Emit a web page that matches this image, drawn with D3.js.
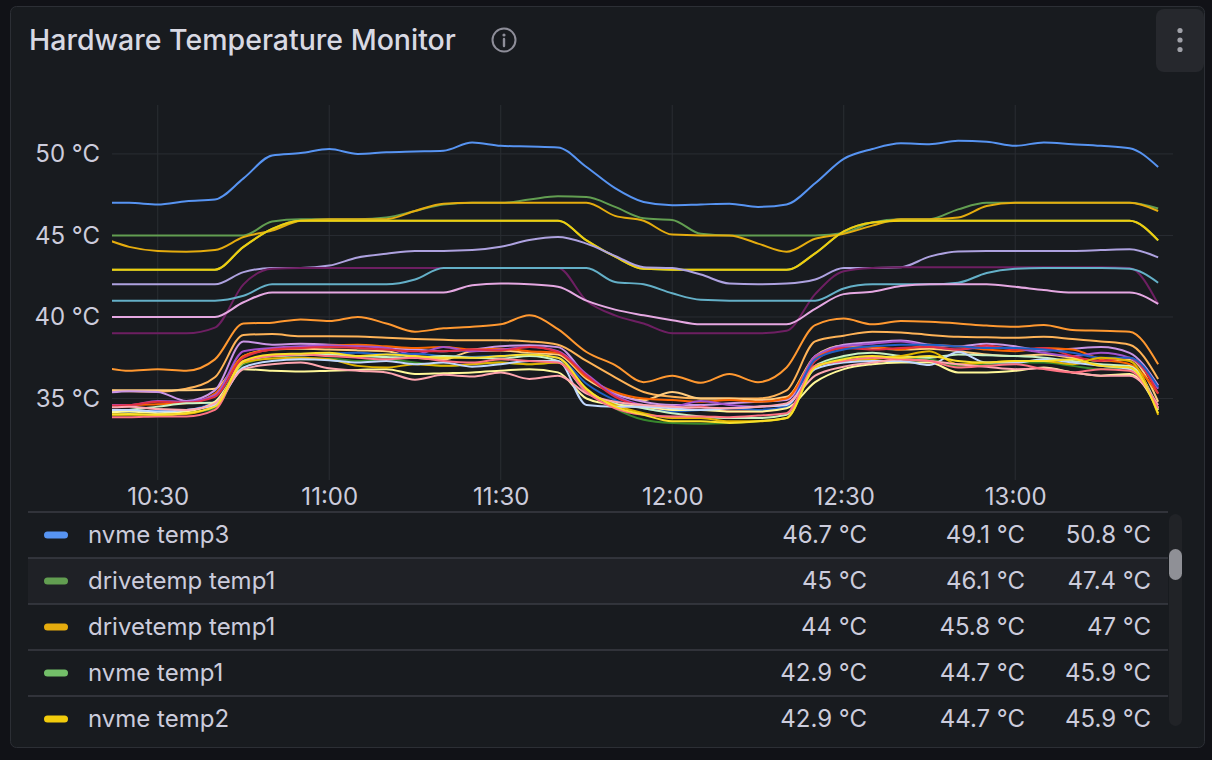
<!DOCTYPE html>
<html>
<head>
<meta charset="utf-8">
<title>Hardware Temperature Monitor</title>
<script src="https://cdn.jsdelivr.net/npm/d3@7"></script>
<style>
  body { margin: 0; background: #111217; font-family: Inter, "Noto Sans", sans-serif; }
  svg { display: block; }
</style>
</head>
<body>
<svg id="chart" width="1212" height="760"></svg>
<script>

// sample times (5 min scrape)
var timeLabels = ["10:20","10:25","10:30","10:35","10:40","10:45","10:50","10:55","11:00","11:05",
                  "11:10","11:15","11:20","11:25","11:30","11:35","11:40","11:45","11:50","11:55",
                  "12:00","12:05","12:10","12:15","12:20","12:25","12:30","12:35","12:40","12:45",
                  "12:50","12:55","13:00","13:05","13:10","13:15","13:20","13:25"];

var xTickLabels = ["10:30", "11:00", "11:30", "12:00", "12:30", "13:00"];
var yTickValues = [35, 40, 45, 50];

// upper sensors
var nvmeTemp3 = [47.0, 47.0, 46.9, 47.1, 47.2, 48.5, 49.9, 50.05, 50.3, 50.0, 50.1, 50.15, 50.2, 50.7, 50.5, 50.45, 50.4, 49.2, 47.9, 47.05, 46.85, 46.9, 46.95, 46.75, 46.9, 48.2, 49.7, 50.3, 50.65, 50.6, 50.8, 50.75, 50.5, 50.7, 50.6, 50.5, 50.35, 49.2];
var drivetempA = [45.0, 45.0, 45.0, 45.0, 45.0, 45.0, 45.85, 46.0, 46.0, 46.0, 46.1, 46.5, 46.9, 47.0, 47.0, 47.2, 47.4, 47.35, 46.75, 46.05, 45.95, 45.1, 45.0, 45.0, 45.0, 45.0, 45.15, 45.8, 46.0, 46.0, 46.6, 47.0, 47.0, 47.0, 47.0, 47.0, 47.0, 46.65];
var drivetempB = [44.9, 44.3, 44.05, 44.0, 44.1, 44.9, 45.3, 45.9, 46.0, 46.0, 46.0, 46.5, 46.95, 47.0, 47.0, 47.0, 47.0, 47.0, 46.2, 45.9, 45.05, 45.0, 45.0, 44.5, 44.0, 44.8, 45.1, 45.6, 46.0, 46.0, 46.1, 46.8, 47.0, 47.0, 47.0, 47.0, 47.0, 46.5];
var nvmeTemp1 = [42.9, 42.9, 42.9, 42.9, 42.9, 44.3, 45.4, 45.9, 45.9, 45.9, 45.9, 45.9, 45.9, 45.9, 45.9, 45.9, 45.9, 44.7, 43.7, 42.95, 42.9, 42.9, 42.9, 42.9, 42.9, 43.9, 45.25, 45.8, 45.9, 45.9, 45.9, 45.9, 45.9, 45.9, 45.9, 45.9, 45.9, 44.7];
var nvmeTemp2 = [42.9, 42.9, 42.9, 42.9, 42.9, 44.3, 45.4, 45.9, 45.9, 45.9, 45.9, 45.9, 45.9, 45.9, 45.9, 45.9, 45.9, 44.7, 43.7, 42.95, 42.9, 42.9, 42.9, 42.9, 42.9, 43.9, 45.25, 45.8, 45.9, 45.9, 45.9, 45.9, 45.9, 45.9, 45.9, 45.9, 45.9, 44.7];
var acpiTemp1 = [42.0, 42.0, 42.0, 42.0, 42.0, 42.75, 43.0, 43.0, 43.15, 43.65, 43.88, 44.05, 44.05, 44.1, 44.3, 44.72, 44.9, 44.5, 43.75, 43.05, 43.0, 42.6, 42.05, 42.0, 42.05, 42.3, 43.0, 43.0, 43.05, 43.7, 44.02, 44.05, 44.05, 44.05, 44.05, 44.1, 44.15, 43.65];
var pchTemp1 = [39.0, 39.0, 39.0, 39.0, 39.35, 42.0, 42.95, 43.0, 43.0, 43.0, 43.0, 43.0, 43.0, 43.0, 43.0, 43.0, 43.0, 41.0, 40.1, 39.6, 39.0, 39.0, 39.0, 39.0, 39.15, 41.4, 42.8, 43.0, 43.05, 43.05, 43.05, 43.05, 43.05, 43.05, 43.05, 43.05, 43.0, 40.8];
var wifiTemp1 = [41.0, 41.0, 41.0, 41.0, 41.0, 41.3, 42.0, 42.0, 42.0, 42.0, 42.0, 42.3, 43.0, 43.0, 43.0, 43.0, 43.0, 43.0, 42.15, 42.0, 41.45, 41.05, 41.0, 41.0, 41.0, 41.0, 41.75, 42.0, 42.0, 42.0, 42.1, 42.7, 42.95, 43.0, 43.0, 43.0, 42.95, 42.1];
var gpuTemp1 = [40.0, 40.0, 40.0, 40.0, 40.0, 40.9, 41.5, 41.5, 41.5, 41.5, 41.5, 41.5, 41.5, 41.95, 42.05, 42.0, 41.85, 41.0, 40.45, 40.1, 39.8, 39.55, 39.55, 39.55, 39.55, 40.5, 41.4, 41.55, 41.9, 42.0, 42.0, 42.0, 41.85, 41.65, 41.5, 41.5, 41.5, 40.8];

// cpu package / cores
var packageId0 = [36.95, 36.7, 36.8, 36.7, 37.4, 39.6, 39.65, 39.85, 39.75, 40.0, 39.6, 39.1, 39.3, 39.4, 39.55, 40.1, 39.25, 37.85, 37.05, 36.0, 36.4, 35.96, 36.5, 36.0, 36.9, 39.5, 39.9, 39.55, 39.75, 39.7, 39.6, 39.47, 39.4, 39.5, 39.2, 39.15, 39.1, 37.1];
var core0 = [35.5, 35.45, 35.42, 35.6, 36.3, 38.9, 38.95, 38.82, 38.82, 38.8, 38.72, 38.65, 38.6, 38.57, 38.57, 38.5, 38.3, 37.3, 36.3, 35.4, 35.1, 35.0, 35.0, 35.0, 35.5, 38.5, 38.85, 39.1, 39.05, 38.9, 38.78, 38.75, 38.72, 38.78, 38.65, 38.5, 38.3, 36.2];
var core1 = [35.5, 35.5, 35.5, 35.5, 35.6, 37.6, 38.0, 38.05, 38.0, 37.95, 37.9, 37.5, 37.4, 37.9, 37.95, 37.8, 37.7, 36.2, 35.3, 34.9, 35.4, 35.0, 35.0, 34.9, 35.1, 37.6, 38.25, 38.1, 38.0, 38.05, 37.9, 37.7, 37.6, 37.7, 37.5, 37.3, 37.4, 34.8];
var core2 = [35.3, 35.45, 35.4, 34.85, 35.5, 38.5, 38.3, 38.35, 38.3, 38.25, 38.1, 38.0, 37.9, 38.0, 38.2, 38.27, 38.15, 36.4, 35.3, 34.8, 34.6, 34.6, 34.7, 34.8, 34.9, 37.5, 38.3, 38.45, 38.55, 38.3, 38.2, 38.35, 38.2, 37.95, 38.05, 38.15, 37.8, 35.8];
var core3 = [34.6, 34.6, 34.65, 34.7, 35.3, 37.6, 38.0, 38.1, 38.25, 38.3, 38.2, 38.1, 38.15, 38.0, 38.05, 37.9, 37.8, 36.3, 35.4, 35.0, 34.9, 34.8, 34.9, 34.8, 35.0, 37.5, 38.1, 38.15, 38.0, 38.3, 38.2, 38.0, 37.9, 38.1, 38.0, 37.4, 37.1, 35.3];
var core4 = [34.6, 34.6, 34.85, 34.8, 35.2, 37.9, 38.1, 38.2, 38.25, 38.2, 38.1, 37.7, 38.15, 37.9, 38.0, 38.15, 37.9, 36.5, 35.2, 34.6, 34.5, 34.85, 34.6, 34.5, 34.6, 37.6, 38.2, 38.35, 38.5, 38.2, 38.0, 38.15, 38.05, 37.8, 37.6, 37.8, 37.5, 35.6];
var core5 = [34.55, 34.6, 34.8, 34.75, 35.1, 37.5, 38.0, 38.1, 38.15, 38.1, 38.0, 37.9, 37.9, 38.0, 37.95, 38.15, 37.85, 36.4, 35.1, 34.5, 34.3, 34.5, 34.2, 34.2, 34.5, 37.3, 38.1, 38.0, 38.1, 38.15, 38.0, 38.25, 38.0, 38.1, 37.6, 37.3, 37.5, 35.3];
var core6 = [34.2, 34.2, 34.25, 34.3, 34.8, 37.2, 37.6, 37.7, 37.75, 37.8, 37.7, 37.75, 37.6, 37.55, 37.6, 37.7, 37.5, 35.9, 34.9, 34.4, 34.2, 34.3, 34.4, 34.3, 34.5, 37.4, 38.0, 38.2, 38.3, 38.3, 38.2, 38.1, 38.1, 38.0, 37.8, 37.5, 37.5, 35.7];
var core7 = [34.0, 34.0, 34.0, 34.1, 34.4, 37.1, 37.45, 37.4, 37.45, 37.3, 37.4, 37.2, 37.0, 37.1, 37.2, 37.1, 37.2, 35.6, 34.4, 33.7, 33.5, 33.45, 33.5, 33.6, 33.8, 36.9, 37.5, 37.55, 37.5, 37.4, 37.0, 37.1, 37.2, 37.2, 37.0, 36.8, 36.9, 34.3];
var core8 = [34.2, 34.3, 34.5, 34.7, 34.75, 37.2, 37.6, 37.65, 37.7, 37.6, 37.55, 37.5, 37.6, 37.5, 37.45, 37.6, 37.3, 35.4, 34.7, 34.4, 34.1, 33.9, 33.8, 33.8, 34.0, 37.0, 37.6, 37.8, 37.6, 37.5, 37.7, 37.65, 37.6, 37.5, 37.3, 37.1, 37.0, 34.4];
var core9 = [34.1, 34.2, 34.1, 34.2, 34.8, 36.8, 36.7, 36.65, 36.7, 36.75, 36.8, 36.5, 36.55, 36.6, 36.7, 36.8, 36.6, 35.0, 34.6, 34.5, 34.3, 34.3, 34.2, 34.2, 34.4, 36.0, 36.8, 37.1, 37.2, 37.2, 36.6, 36.6, 36.7, 36.9, 36.6, 36.4, 36.5, 34.3];
var core10 = [34.0, 34.0, 34.0, 34.05, 34.6, 37.2, 37.45, 37.5, 37.4, 37.0, 36.9, 37.1, 37.0, 37.1, 37.2, 37.1, 37.2, 35.5, 34.6, 34.1, 33.8, 33.8, 33.6, 33.6, 33.8, 37.0, 37.3, 37.4, 37.6, 37.9, 37.1, 37.2, 37.3, 37.3, 37.1, 37.5, 37.3, 34.0];
var core11 = [34.3, 34.3, 34.2, 34.3, 34.6, 36.9, 37.3, 37.4, 37.35, 37.2, 37.3, 37.1, 37.2, 36.95, 37.1, 37.3, 37.3, 34.6, 34.5, 34.5, 34.4, 34.3, 34.4, 34.5, 34.6, 36.8, 37.2, 37.3, 37.3, 37.05, 37.85, 37.2, 37.2, 37.4, 37.2, 37.0, 36.8, 34.4];
var core12 = [34.4, 34.5, 34.35, 34.3, 34.7, 36.8, 37.1, 37.2, 36.85, 36.7, 36.6, 36.15, 36.45, 36.35, 36.6, 36.2, 36.4, 35.3, 34.8, 34.6, 34.5, 34.45, 34.4, 34.5, 34.7, 36.4, 36.95, 37.2, 37.4, 37.3, 37.1, 36.95, 36.8, 36.85, 36.6, 36.4, 36.4, 34.6];
var core13 = [33.85, 33.85, 33.9, 33.9, 34.3, 37.3, 37.6, 37.7, 37.6, 37.5, 37.4, 37.5, 37.3, 37.2, 37.4, 37.3, 37.2, 35.4, 34.4, 34.0, 33.9, 33.9, 33.85, 33.95, 34.1, 37.0, 37.3, 37.5, 37.4, 37.3, 36.9, 37.0, 37.1, 36.8, 36.6, 36.8, 36.7, 34.4];
var core14 = [34.0, 34.05, 34.0, 34.1, 34.5, 37.3, 37.7, 37.75, 37.8, 37.6, 37.7, 37.6, 37.5, 37.5, 37.6, 37.7, 37.5, 35.6, 34.5, 34.0, 33.6, 33.6, 33.5, 33.6, 33.8, 36.9, 37.4, 37.6, 37.5, 37.6, 37.3, 37.2, 37.3, 37.3, 37.4, 37.0, 36.9, 34.1];

// legend rows shown (values as displayed)
var legendNames = ["nvme temp3", "drivetemp temp1", "drivetemp temp1", "nvme temp1", "nvme temp2"];
var legendMin = ["46.7 °C", "45 °C", "44 °C", "42.9 °C", "42.9 °C"];
var legendMean = ["49.1 °C", "46.1 °C", "45.8 °C", "44.7 °C", "44.7 °C"];
var legendMax = ["50.8 °C", "47.4 °C", "47 °C", "45.9 °C", "45.9 °C"];

var series = [
    {name: "nvme temp3", color: "#5794F2", values: nvmeTemp3},
    {name: "drivetemp temp1", color: "#629E51", values: drivetempA},
    {name: "drivetemp temp1", color: "#E5AC0E", values: drivetempB},
    {name: "nvme temp1", color: "#73BF69", values: nvmeTemp1},
    {name: "nvme temp2", color: "#F2CC0C", values: nvmeTemp2},
    {name: "acpitz temp1", color: "#AEA2E0", values: acpiTemp1},
    {name: "pch temp1", color: "#6D1F62", values: pchTemp1},
    {name: "iwlwifi temp1", color: "#64B0C8", values: wifiTemp1},
    {name: "amdgpu edge", color: "#E5A8E2", values: gpuTemp1},
    {name: "coretemp Package id 0", color: "#FF9830", values: packageId0},
    {name: "coretemp Core 0", color: "#FFB357", values: core0},
    {name: "coretemp Core 1", color: "#FFCB7D", values: core1},
    {name: "coretemp Core 2", color: "#CA95E5", values: core2},
    {name: "coretemp Core 3", color: "#FA6400", values: core3},
    {name: "coretemp Core 4", color: "#A352CC", values: core4},
    {name: "coretemp Core 5", color: "#E02F44", values: core5},
    {name: "coretemp Core 6", color: "#1F60C4", values: core6},
    {name: "coretemp Core 7", color: "#37872D", values: core7},
    {name: "coretemp Core 8", color: "#C8F2C2", values: core8},
    {name: "coretemp Core 9", color: "#FFF899", values: core9},
    {name: "coretemp Core 10", color: "#E0B400", values: core10},
    {name: "coretemp Core 11", color: "#C0D8FF", values: core11},
    {name: "coretemp Core 12", color: "#FFA6B0", values: core12},
    {name: "coretemp Core 13", color: "#FF7383", values: core13},
    {name: "coretemp Core 14", color: "#FADE2A", values: core14}
];

(function() {

var parseTime = d3.timeParse("%Y-%m-%d %H:%M");
var day = "2024-05-14 ";
var times = timeLabels.map(function(t) { return parseTime(day + t); });

var svg = d3.select("#chart");
var textColor = "#ccccdc";
var fontSize = "24px";

// panel
svg.append("rect")
    .attr("x", 10.5).attr("y", 6.5)
    .attr("width", 1194).attr("height", 741)
    .attr("rx", 6)
    .attr("fill", "#181b1f")
    .attr("stroke", "#2c2f35");

svg.append("text")
    .attr("x", 29).attr("y", 50)
    .attr("fill", "#d8d9e3")
    .style("font-size", "28.5px")
    .style("font-weight", 500)
    .text("Hardware Temperature Monitor");

var info = svg.append("g").attr("transform", "translate(504,40)");
info.append("circle").attr("r", 11.5).attr("fill", "none").attr("stroke", "#8e8e99").attr("stroke-width", 2);
info.append("circle").attr("cy", -5).attr("r", 1.6).attr("fill", "#8e8e99");
info.append("line").attr("y1", -1).attr("y2", 6).attr("stroke", "#8e8e99").attr("stroke-width", 2.4).attr("stroke-linecap", "round");

svg.append("rect")
    .attr("x", 1156).attr("y", 9)
    .attr("width", 48).attr("height", 63)
    .attr("rx", 8)
    .attr("fill", "#26282d");
[30.5, 40, 49.5].forEach(function(cy) {
    svg.append("circle").attr("cx", 1180).attr("cy", cy).attr("r", 2.6).attr("fill", "#a0a1a8");
});

// plot
var plotLeft = 112, plotRight = 1173, plotTop = 105, plotBottom = 480;

var x = d3.scaleTime()
    .domain([parseTime(day + "10:22"), d3.timeSecond.offset(parseTime(day + "13:27"), 36)])
    .range([plotLeft, plotRight]);

var y = d3.scaleLinear()
    .domain([30, 53])
    .range([plotBottom, plotTop]);

var xTicks = xTickLabels.map(function(t) { return parseTime(day + t); });

svg.append("g")
    .selectAll("line")
    .data(xTicks)
    .enter().append("line")
    .attr("x1", function(d) { return x(d); })
    .attr("x2", function(d) { return x(d); })
    .attr("y1", plotTop).attr("y2", plotBottom)
    .attr("stroke", "#2a2d33");

svg.append("g")
    .selectAll("line")
    .data(yTickValues)
    .enter().append("line")
    .attr("x1", plotLeft).attr("x2", plotRight)
    .attr("y1", function(d) { return y(d); })
    .attr("y2", function(d) { return y(d); })
    .attr("stroke", "#2a2d33");

var yAxis = svg.append("g")
    .attr("transform", "translate(" + plotLeft + ",0)")
    .call(d3.axisLeft(y).tickValues(yTickValues).tickSize(0).tickPadding(12)
        .tickFormat(function(d) { return d + " °C"; }));

var xAxis = svg.append("g")
    .attr("transform", "translate(0," + plotBottom + ")")
    .call(d3.axisBottom(x).tickValues(xTicks).tickSize(0).tickPadding(8)
        .tickFormat(d3.timeFormat("%H:%M")));

[yAxis, xAxis].forEach(function(a) {
    a.select(".domain").remove();
    a.selectAll("text")
        .attr("fill", textColor)
        .style("font-family", "Inter, 'Noto Sans', sans-serif")
        .style("font-size", fontSize);
});

svg.append("clipPath").attr("id", "plotClip")
    .append("rect")
    .attr("x", plotLeft).attr("y", plotTop)
    .attr("width", plotRight - plotLeft).attr("height", plotBottom - plotTop);

var line = d3.line()
    .x(function(d, i) { return x(times[i]); })
    .y(function(d) { return y(d); })
    .curve(d3.curveMonotoneX);

svg.append("g")
    .attr("clip-path", "url(#plotClip)")
    .selectAll("path")
    .data(series)
    .enter().append("path")
    .attr("fill", "none")
    .attr("stroke", function(d) { return d.color; })
    .attr("stroke-width", 2)
    .attr("stroke-linejoin", "round")
    .attr("d", function(d) { return line(d.values); });

// legend table
var rowTop = 512, rowH = 46;
var legend = svg.append("g");

legendNames.forEach(function(name, i) {
    var y0 = rowTop + i * rowH;
    var cy = y0 + rowH / 2;
    if (i === 1) {
        legend.append("rect").attr("x", 28).attr("y", y0).attr("width", 1140).attr("height", rowH)
            .attr("fill", "#1f2126");
    }
    legend.append("line")
        .attr("x1", 28).attr("x2", 1168)
        .attr("y1", y0).attr("y2", y0)
        .attr("stroke", "#3a3d44").attr("stroke-width", 1.5);
    legend.append("rect")
        .attr("x", 44).attr("y", cy - 3.5)
        .attr("width", 24).attr("height", 7).attr("rx", 3.5)
        .attr("fill", series[i].color);
    legend.append("text")
        .attr("x", 88).attr("y", cy).attr("dy", "0.35em")
        .attr("fill", textColor).style("font-size", fontSize)
        .text(name);
    [[legendMin, 867], [legendMean, 1025], [legendMax, 1151]].forEach(function(col) {
        legend.append("text")
            .attr("x", col[1]).attr("y", cy).attr("dy", "0.35em")
            .attr("text-anchor", "end")
            .attr("fill", textColor).style("font-size", fontSize)
            .text(col[0][i]);
    });
});

// scrollbar
svg.append("rect").attr("x", 1169).attr("y", 514).attr("width", 13).attr("height", 212).attr("rx", 6.5).attr("fill", "#212327");
svg.append("rect").attr("x", 1169).attr("y", 549).attr("width", 13).attr("height", 31).attr("rx", 6.5).attr("fill", "#8f9096");

})();

</script>
</body>
</html>
